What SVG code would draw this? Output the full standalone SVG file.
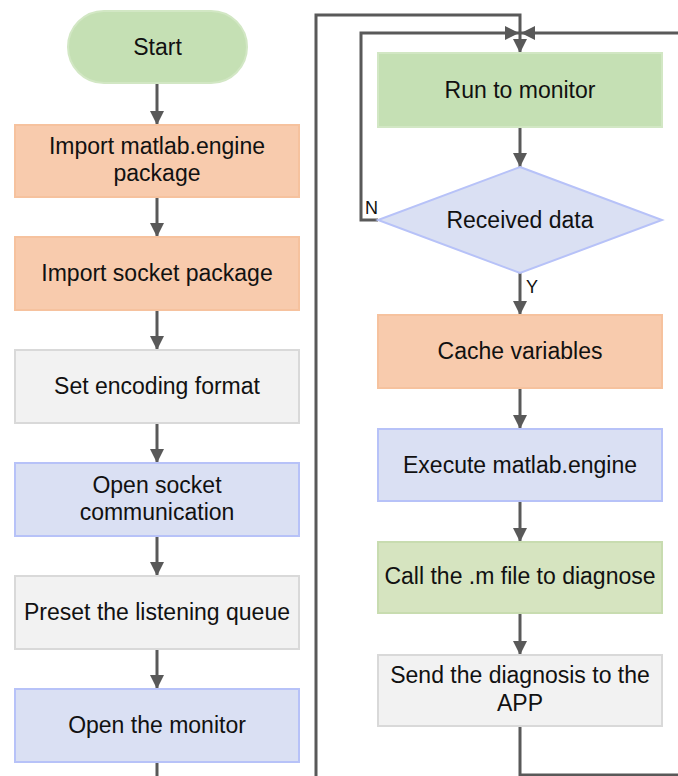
<svg xmlns="http://www.w3.org/2000/svg" width="678" height="776" viewBox="0 0 678 776">
  <style>
    text { font-family: "Liberation Sans", Arial, sans-serif; font-size: 23px; fill: #111111; text-anchor: middle; }
    .lbl { font-size: 18px; text-anchor: start; }
    .orange { fill: #f8cbad; stroke: #f6c29e; stroke-width: 2; }
    .green { fill: #c5e0b4; stroke: #d2e7c4; stroke-width: 2; }
    .lgreen { fill: #d6e4c0; stroke: #c8dcb0; stroke-width: 2; }
    .gray { fill: #f2f2f2; stroke: #d9d9d9; stroke-width: 2; }
    .blue { fill: #dae0f3; stroke: #b7c2f8; stroke-width: 2; }
    .wire { fill: none; stroke: #595959; stroke-width: 3; }
  </style>
  <defs>
    <marker id="arrow" markerUnits="userSpaceOnUse" markerWidth="14" markerHeight="14" refX="14" refY="7" orient="auto">
      <path d="M0,0 L14,7 L0,14 z" fill="#595959"/>
    </marker>
  </defs>

  <!-- connectors -->
  <g id="connectors">
    <path class="wire" d="M157,83 V125" marker-end="url(#arrow)"/>
    <path class="wire" d="M157,197 V237" marker-end="url(#arrow)"/>
    <path class="wire" d="M157,310 V350" marker-end="url(#arrow)"/>
    <path class="wire" d="M157,423 V463" marker-end="url(#arrow)"/>
    <path class="wire" d="M157,536 V576" marker-end="url(#arrow)"/>
    <path class="wire" d="M157,649 V689" marker-end="url(#arrow)"/>
    <path class="wire" d="M157,762 V776"/>
    <!-- main loop entry -->
    <path class="wire" d="M316,776 V15 H520 V53" marker-end="url(#arrow)"/>
    <!-- "N" branch back to monitor -->
    <path class="wire" d="M378,220 H361 V33 H519" marker-end="url(#arrow)"/>
    <!-- return from the APP -->
    <path class="wire" d="M520,726 V775 H678"/>
    <path class="wire" d="M678,33 H521" marker-end="url(#arrow)"/>
    <path class="wire" d="M520,127 V167" marker-end="url(#arrow)"/>
    <path class="wire" d="M520,273 V315" marker-end="url(#arrow)"/>
    <path class="wire" d="M520,388 V429" marker-end="url(#arrow)"/>
    <path class="wire" d="M520,501 V542" marker-end="url(#arrow)"/>
    <path class="wire" d="M520,613 V655" marker-end="url(#arrow)"/>
    <text class="lbl" x="365" y="214">N</text>
    <text class="lbl" x="526" y="293">Y</text>
  </g>

  <!-- left column -->
  <g id="start">
    <rect class="green" x="68" y="11" width="179" height="72" rx="36"/>
    <text x="157.5" y="55">Start</text>
  </g>
  <g id="import-engine">
    <rect class="orange" x="15" y="125" width="284" height="72"/>
    <text x="157" y="154">Import matlab.engine</text>
    <text x="157" y="181">package</text>
  </g>
  <g id="import-socket">
    <rect class="orange" x="15" y="237" width="284" height="73"/>
    <text x="157" y="281">Import socket package</text>
  </g>
  <g id="set-encoding">
    <rect class="gray" x="15" y="350" width="284" height="73"/>
    <text x="157" y="394">Set encoding format</text>
  </g>
  <g id="open-socket">
    <rect class="blue" x="15" y="463" width="284" height="73"/>
    <text x="157" y="493">Open socket</text>
    <text x="157" y="520">communication</text>
  </g>
  <g id="preset-queue">
    <rect class="gray" x="15" y="576" width="284" height="73"/>
    <text x="157" y="620">Preset the listening queue</text>
  </g>
  <g id="open-monitor">
    <rect class="blue" x="15" y="689" width="284" height="73"/>
    <text x="157" y="733">Open the monitor</text>
  </g>

  <!-- right column -->
  <g id="run-monitor">
    <rect class="green" x="378" y="53" width="284" height="74"/>
    <text x="520" y="98">Run to monitor</text>
  </g>
  <g id="received-data">
    <polygon class="blue" points="520,167 662,220 520,273 378,220"/>
    <text x="520" y="228">Received data</text>
  </g>
  <g id="cache-vars">
    <rect class="orange" x="378" y="315" width="284" height="73"/>
    <text x="520" y="359">Cache variables</text>
  </g>
  <g id="exec-engine">
    <rect class="blue" x="378" y="429" width="284" height="72"/>
    <text x="520" y="473">Execute matlab.engine</text>
  </g>
  <g id="call-m-file">
    <rect class="lgreen" x="378" y="542" width="284" height="71"/>
    <text x="520" y="584">Call the .m file to diagnose</text>
  </g>
  <g id="send-diagnosis">
    <rect class="gray" x="378" y="655" width="284" height="71"/>
    <text x="520" y="683">Send the diagnosis to the</text>
    <text x="520" y="711">APP</text>
  </g>
</svg>
